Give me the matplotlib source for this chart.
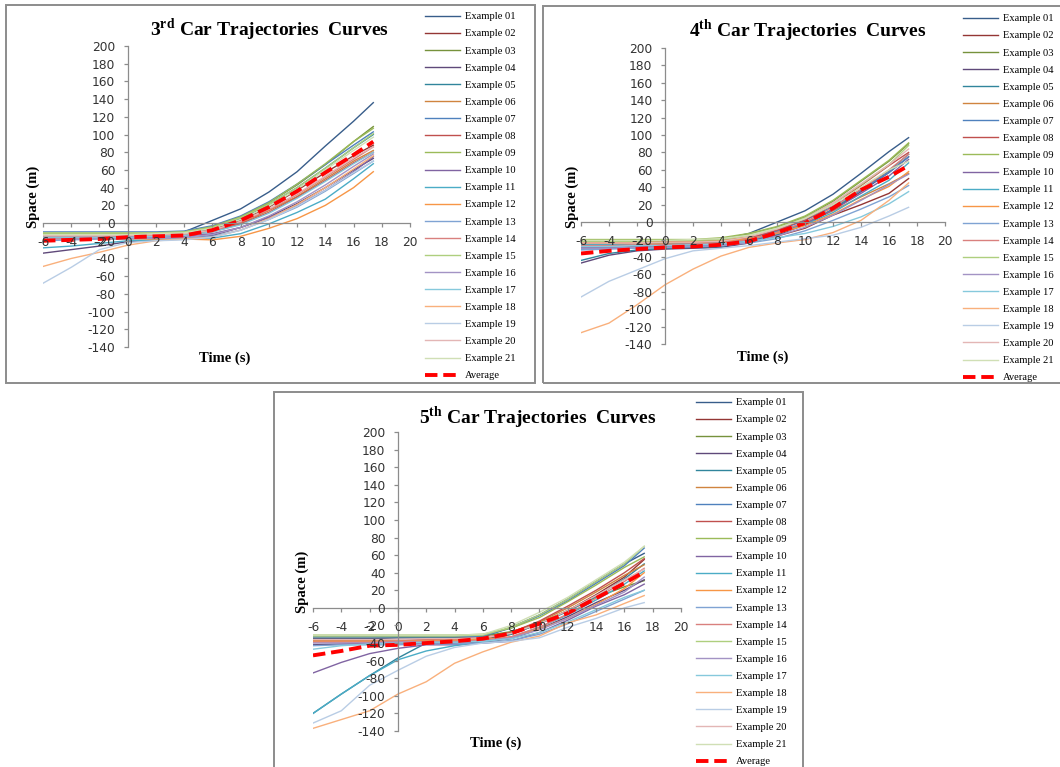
import matplotlib
matplotlib.use("Agg")
import matplotlib.pyplot as plt
from matplotlib.patches import Rectangle

plt.rcParams["mathtext.fontset"] = "custom"
plt.rcParams["mathtext.rm"] = "Liberation Serif"
plt.rcParams["mathtext.bf"] = "Liberation Serif:bold"
plt.rcParams["axes.unicode_minus"] = False

# ---------------- data ----------------
time_s = [-6, -4, -2, 0, 2, 4, 6, 8, 10, 12, 14, 16, 17.4]

labels = ["Example %02d" % i for i in range(1, 22)]

colors = [
    "#385D8A", "#943634", "#76923C", "#5F497A", "#31859C", "#D0843F",
    "#4F81BD", "#C0504D", "#9BBB59", "#8064A2", "#4BACC6", "#F79646",
    "#7FA3D3", "#D9807E", "#AECF7E", "#A393C4", "#86C9DC", "#F9B07C",
    "#B9CDE5", "#E3B6B5", "#D0DFB5",
]

# 3rd car
car3 = [
    [-12, -12, -12, -12, -11, -10, 3, 16, 35, 58, 87, 115, 136],
    [-14, -14, -14, -13, -13, -12, -7, 3, 18, 37, 57, 76, 88],
    [-11, -11, -11, -11, -11, -10, -4, 7, 23, 43, 66, 92, 109],
    [-34, -30, -26, -21, -19, -18, -14, -5, 7, 22, 40, 60, 73],
    [-13, -13, -13, -13, -12, -11, -6, 5, 21, 40, 62, 85, 100],
    [-15, -15, -15, -15, -14, -13, -9, 0, 14, 30, 50, 70, 82],
    [-10, -10, -10, -10, -10, -9, -3, 8, 24, 44, 66, 88, 103],
    [-16, -16, -16, -15, -15, -14, -10, -1, 12, 29, 48, 68, 80],
    [-12, -12, -12, -12, -11, -10, -4, 7, 23, 44, 67, 92, 107],
    [-17, -17, -17, -16, -16, -15, -12, -5, 6, 20, 37, 58, 75],
    [-28, -26, -23, -20, -19, -18, -17, -12, -1, 12, 27, 50, 67],
    [-18, -18, -18, -18, -18, -18, -19, -15, -6, 5, 20, 40, 58],
    [-20, -19, -18, -18, -17, -17, -15, -8, 4, 18, 36, 56, 70],
    [-15, -15, -15, -14, -14, -13, -9, 1, 15, 32, 52, 72, 86],
    [-11, -11, -11, -11, -11, -10, -5, 6, 21, 40, 62, 85, 101],
    [-18, -18, -17, -17, -17, -16, -13, -5, 8, 24, 43, 64, 78],
    [-16, -16, -16, -16, -15, -14, -10, -2, 11, 28, 47, 67, 80],
    [-49, -40, -33, -25, -20, -18, -16, -8, 5, 21, 40, 61, 76],
    [-68, -50, -30, -22, -20, -19, -16, -8, 4, 19, 37, 57, 70],
    [-14, -14, -14, -14, -13, -12, -8, 2, 16, 33, 53, 74, 86],
    [-13, -13, -13, -13, -12, -11, -6, 4, 19, 38, 60, 82, 97],
]
car3_avg = [-20, -19, -18, -16, -15, -14, -8, 3, 18, 36, 57, 77, 92]

# 4th car
car4 = [
    [-22, -22, -21, -21, -21, -20, -13, 0, 13, 32, 56, 81, 97],
    [-30, -30, -29, -28, -28, -27, -23, -16, -7, 8, 20, 33, 50],
    [-21, -21, -21, -21, -21, -19, -14, -6, 6, 24, 47, 70, 90],
    [-47, -38, -33, -31, -30, -29, -24, -15, -3, 14, 35, 57, 75],
    [-44, -36, -32, -30, -29, -28, -22, -14, -2, 15, 37, 59, 78],
    [-23, -23, -23, -22, -22, -21, -17, -11, -1, 13, 29, 44, 56],
    [-31, -30, -29, -28, -27, -25, -19, -10, 2, 18, 37, 57, 75],
    [-25, -25, -25, -24, -24, -23, -18, -9, 3, 20, 42, 65, 80],
    [-20, -20, -20, -20, -20, -18, -13, -5, 7, 25, 48, 71, 91],
    [-29, -29, -28, -28, -27, -26, -21, -13, -2, 14, 33, 53, 72],
    [-26, -26, -25, -25, -25, -24, -20, -13, -3, 11, 30, 48, 68],
    [-24, -24, -24, -24, -23, -22, -19, -13, -4, 9, 26, 41, 58],
    [-32, -31, -30, -29, -28, -27, -24, -19, -10, 2, 15, 29, 42],
    [-27, -27, -26, -26, -25, -24, -20, -12, 0, 17, 38, 60, 78],
    [-22, -22, -22, -21, -21, -20, -15, -7, 5, 22, 43, 66, 88],
    [-30, -30, -29, -29, -28, -27, -23, -16, -6, 8, 25, 43, 55],
    [-28, -28, -27, -27, -26, -25, -22, -18, -13, -5, 6, 21, 35],
    [-127, -116, -95, -72, -54, -39, -29, -24, -20, -12, 2, 25, 45],
    [-86, -68, -55, -42, -33, -30, -27, -23, -19, -15, -6, 7, 17],
    [-24, -24, -24, -23, -23, -22, -17, -8, 4, 22, 44, 66, 84],
    [-21, -21, -21, -21, -20, -19, -15, -7, 4, 20, 40, 60, 70],
]
car4_avg = [-36, -33, -31, -29, -28, -26, -22, -12, -1, 16, 37, 52, 65]

# 5th car
car5 = [
    [-35, -35, -35, -34, -34, -34, -33, -22, -8, 10, 30, 50, 62],
    [-38, -38, -38, -38, -37, -37, -36, -30, -18, -3, 15, 35, 55],
    [-33, -33, -33, -33, -33, -33, -32, -27, -17, -3, 12, 24, 31],
    [-42, -41, -40, -40, -40, -40, -39, -35, -24, -10, 6, 20, 32],
    [-120, -98, -77, -57, -40, -38, -37, -30, -18, -4, 13, 33, 50],
    [-37, -37, -37, -37, -36, -36, -35, -28, -16, 0, 18, 37, 49],
    [-33, -33, -33, -33, -33, -33, -32, -23, -9, 8, 28, 48, 68],
    [-36, -36, -36, -36, -36, -35, -34, -28, -15, 2, 20, 40, 56],
    [-31, -31, -31, -31, -31, -31, -30, -23, -11, 7, 26, 46, 58],
    [-74, -62, -52, -46, -42, -42, -40, -38, -28, -14, 2, 15, 27],
    [-120, -98, -77, -59, -49, -43, -39, -33, -22, -8, 9, 27, 42],
    [-38, -38, -38, -38, -37, -37, -36, -33, -24, -12, 4, 22, 40],
    [-43, -42, -42, -42, -41, -41, -40, -37, -30, -18, -4, 10, 20],
    [-39, -39, -39, -38, -38, -38, -37, -33, -22, -7, 11, 30, 45],
    [-32, -32, -32, -32, -32, -32, -31, -22, -8, 10, 30, 50, 70],
    [-40, -40, -40, -39, -39, -39, -38, -34, -25, -12, 3, 18, 35],
    [-47, -43, -41, -40, -39, -39, -38, -35, -28, -16, -2, 12, 20],
    [-137, -127, -117, -98, -84, -63, -50, -39, -32, -17, -8, 5, 14],
    [-131, -117, -88, -71, -55, -45, -40, -38, -34, -22, -12, 0, 6],
    [-36, -36, -36, -36, -35, -35, -34, -29, -18, -3, 14, 32, 44],
    [-31, -31, -31, -31, -31, -31, -30, -20, -5, 12, 32, 52, 70],
]
car5_avg = [-54, -49, -43, -42, -40, -38, -35, -29, -18, -6, 11, 28, 41]

titles = [
    r"3$^{\mathbf{rd}}$ Car Trajectories  Curves",
    r"4$^{\mathbf{th}}$ Car Trajectories  Curves",
    r"5$^{\mathbf{th}}$ Car Trajectories  Curves",
]

# ---------------- layout (pixels) ----------------
W, H = 1060, 767
SERIF = "Liberation Serif"


def fx(px):
    return px / W


def fy(py):
    return 1 - py / H


# each panel: frame box, axes box, title pos, ylabel pos, xlabel pos, legend anchor
panels = [
    dict(data=car3, avg=car3_avg, title=titles[0],
         frame=(6, 5, 535, 383), axes=(43, 46, 410, 347),
         title_xy=(270, 30), ylab_xy=(33, 197), xlab_xy=(225, 358),
         leg_xy=(425, 12)),
    dict(data=car4, avg=car4_avg, title=titles[1],
         frame=(543, 6, 1075, 383), axes=(581, 48, 945, 344),
         title_xy=(808, 31), ylab_xy=(572, 197), xlab_xy=(763, 357),
         leg_xy=(963, 14)),
    dict(data=car5, avg=car5_avg, title=titles[2],
         frame=(274, 392, 803, 780), axes=(313, 432, 681, 731),
         title_xy=(538, 418), ylab_xy=(302, 582), xlab_xy=(496, 743),
         leg_xy=(696, 398)),
]

fig = plt.figure(figsize=(W / 100, H / 100), dpi=100)
fig.patch.set_facecolor("white")

for p in panels:
    x0, y0, x1, y1 = p["frame"]
    fig.patches.append(Rectangle((fx(x0), fy(y1)), fx(x1 - x0), (y1 - y0) / H,
                                 transform=fig.transFigure, fill=False,
                                 edgecolor="#8c8c8c", linewidth=1.4))

    ax0, ay0, ax1, ay1 = p["axes"]
    ax = fig.add_axes([fx(ax0), fy(ay1), fx(ax1 - ax0), (ay1 - ay0) / H])
    ax.patch.set_alpha(0)
    ax.set_axisbelow(False)  # tick labels sit on top of the curves

    handles = []
    for vals, lab, col in zip(p["data"], labels, colors):
        h, = ax.plot(time_s, vals, color=col, linewidth=1.0, label=lab)
        handles.append(h)
    h, = ax.plot(time_s, p["avg"], color="#FF0000", linewidth=2.8,
                 linestyle=(0, (3.2, 1.5)), label="Average")
    handles.append(h)

    ax.set_xlim(-6, 20)
    ax.set_ylim(-140, 200)
    ax.set_xticks(range(-6, 21, 2))
    ax.set_yticks(range(-140, 201, 20))
    ax.spines["left"].set_position(("data", 0))
    ax.spines["bottom"].set_position(("data", 0))
    ax.spines["top"].set_visible(False)
    ax.spines["right"].set_visible(False)
    for s in ("left", "bottom"):
        ax.spines[s].set_color("#8c8c8c")
        ax.spines[s].set_linewidth(0.9)
    ax.tick_params(direction="out", length=3, width=0.9, color="#8c8c8c",
                   labelsize=8.8, labelcolor="#333333")
    ax.tick_params(axis="x", pad=6.5)
    ax.tick_params(axis="y", pad=6)

    fig.text(fx(p["title_xy"][0]), fy(p["title_xy"][1]), p["title"],
             ha="center", va="center", fontsize=14, fontweight="bold",
             family=SERIF)
    fig.text(fx(p["ylab_xy"][0]), fy(p["ylab_xy"][1]), "Space (m)",
             ha="center", va="center", rotation=90, fontsize=10.5,
             fontweight="bold", family=SERIF)
    fig.text(fx(p["xlab_xy"][0]), fy(p["xlab_xy"][1]), "Time (s)",
             ha="center", va="center", fontsize=10.5, fontweight="bold",
             family=SERIF)

    fig.legend(handles=handles, loc="upper left",
               bbox_to_anchor=(fx(p["leg_xy"][0]), fy(p["leg_xy"][1])),
               bbox_transform=fig.transFigure, frameon=False,
               prop={"family": SERIF, "size": 7.6}, borderpad=0,
               borderaxespad=0, handlelength=3.3, handletextpad=0.45,
               labelspacing=0.73)

fig.savefig("out.png", dpi=100, facecolor="white")
